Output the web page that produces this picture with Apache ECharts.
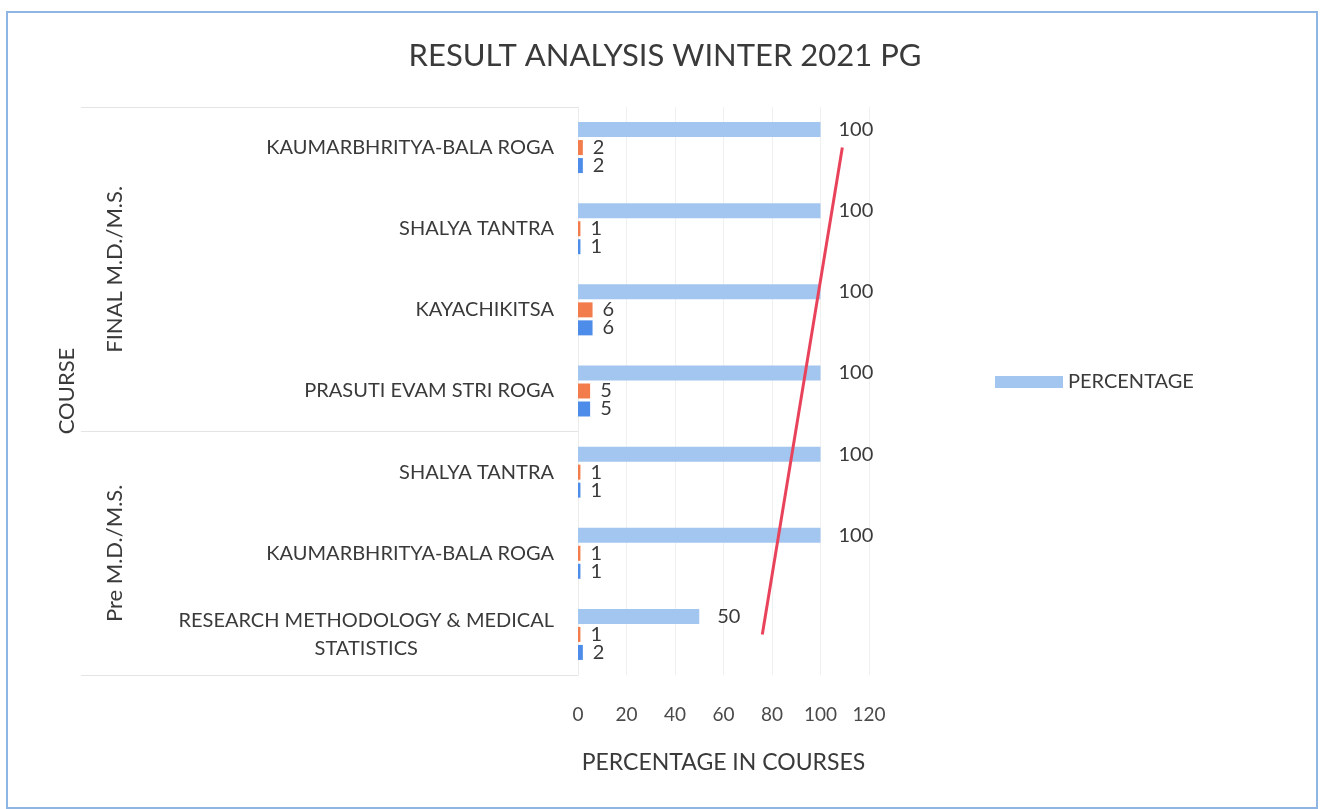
<!DOCTYPE html>
<html>
<head>
<meta charset="utf-8">
<script src="https://cdn.jsdelivr.net/npm/echarts@6/dist/echarts.min.js"></script>
<style>
  html, body { margin: 0; padding: 0; background: #ffffff; }
  #chart { width: 1322px; height: 809px; }
</style>
</head>
<body>
<div id="chart"></div>
<script>
// ---- data ----
const categories = [
  'KAUMARBHRITYA-BALA ROGA',
  'SHALYA TANTRA',
  'KAYACHIKITSA',
  'PRASUTI EVAM STRI ROGA',
  'SHALYA TANTRA',
  'KAUMARBHRITYA-BALA ROGA',
  'RESEARCH METHODOLOGY & MEDICAL\nSTATISTICS'
];
const percentage = [100, 100, 100, 100, 100, 100, 50];
const passed     = [2, 1, 6, 5, 1, 1, 1];
const appeared   = [2, 1, 6, 5, 1, 1, 2];
const groupLabels = ['FINAL M.D./M.S.', 'Pre M.D./M.S.'];
const groupLabelPos = [2, 5.5];      // centre of each group, in category units
const groupBounds = [0, 4, 7];       // group borders, in category units
const xTicks = [0, 20, 40, 60, 80, 100, 120];
const penStroke = [[109, 0], [76, 6]]; // hand-drawn red stroke on the scan

const FONT = 'Lato, "Noto Sans", sans-serif';
const TXT = '#3a3a3a';

const chart = echarts.init(document.getElementById('chart'), null, { renderer: 'canvas' });

const valueLabel = {
  show: true, position: 'right', distance: 10,
  color: TXT, fontFamily: FONT, fontSize: 20
};

chart.setOption({
  animation: false,
  backgroundColor: '#ffffff',
  title: {
    text: 'RESULT ANALYSIS WINTER 2021 PG',
    left: 660, top: 35, textAlign: 'center',
    textStyle: { color: TXT, fontFamily: FONT, fontSize: 31, fontWeight: 'normal' }
  },
  legend: {
    data: ['PERCENTAGE'],
    left: 990, top: 367,
    itemWidth: 68, itemHeight: 12, icon: 'rect', itemGap: 8,
    textStyle: { color: TXT, fontFamily: FONT, fontSize: 20 }
  },
  grid: { left: 578, right: 453, top: 107, bottom: 134 },
  xAxis: {
    type: 'value', min: xTicks[0], max: xTicks[xTicks.length - 1], interval: xTicks[1] - xTicks[0],
    name: 'PERCENTAGE IN COURSES', nameLocation: 'middle', nameGap: 76,
    nameTextStyle: { color: TXT, fontFamily: FONT, fontSize: 23 },
    axisLine: { show: false }, axisTick: { show: false },
    axisLabel: { color: '#4a4a4a', fontFamily: FONT, fontSize: 19, margin: 30 },
    splitLine: { show: true, lineStyle: { color: '#f0f0f0', width: 1 } }
  },
  yAxis: [
    {
      type: 'category', data: categories, inverse: true,
      name: 'COURSE', nameLocation: 'middle', nameGap: 500, nameRotate: 90,
      nameTextStyle: { color: TXT, fontFamily: FONT, fontSize: 22 },
      axisLine: { show: true, lineStyle: { color: '#ececec' } },
      axisTick: { show: false },
      axisLabel: {
        color: TXT, fontFamily: FONT, fontSize: 20, margin: 24, lineHeight: 28,
        formatter: v => v.split('\n').map(s => '{c|' + s + '}').join('\n'),
        rich: { c: { align: 'center', color: TXT, fontFamily: FONT, fontSize: 20, lineHeight: 28 } }
      }
    },
    {
      type: 'value', min: groupBounds[0], max: groupBounds[groupBounds.length - 1], inverse: true,
      position: 'left', gridIndex: 0,
      axisLine: { show: false },
      axisTick: { show: true, customValues: groupBounds, length: 497, lineStyle: { color: '#e4e4e4' } },
      axisLabel: {
        show: true, customValues: groupLabelPos, rotate: 90, margin: 452,
        color: TXT, fontFamily: FONT, fontSize: 22,
        formatter: v => groupLabels[groupLabelPos.indexOf(v)] || ''
      },
      splitLine: { show: false }
    }
  ],
  series: [
    {
      name: 'PERCENTAGE', type: 'bar', data: percentage,
      barWidth: 15, barGap: '20%',
      itemStyle: { color: '#a3c6f0' },
      label: Object.assign({}, valueLabel, { distance: 18 })
    },
    {
      name: 'PASSED', type: 'bar', data: passed,
      barWidth: 15, barGap: '20%',
      itemStyle: { color: '#f27c4c' },
      label: valueLabel,
      markLine: {
        silent: true, symbol: ['none', 'none'],
        label: { show: false },
        lineStyle: { color: '#e9435c', width: 3, type: 'solid' },
        data: [[{ coord: penStroke[0] }, { coord: penStroke[1] }]]
      }
    },
    {
      name: 'APPEARED', type: 'bar', data: appeared,
      barWidth: 15, barGap: '20%',
      itemStyle: { color: '#4d8ce8' },
      label: valueLabel
    }
  ],
  graphic: [
    {
      type: 'rect', silent: true, z: -1,
      shape: { x: 7, y: 12, width: 1310, height: 796 },
      style: { fill: 'none', stroke: '#8fb6e3', lineWidth: 2 }
    }
  ]
});
</script>
</body>
</html>
